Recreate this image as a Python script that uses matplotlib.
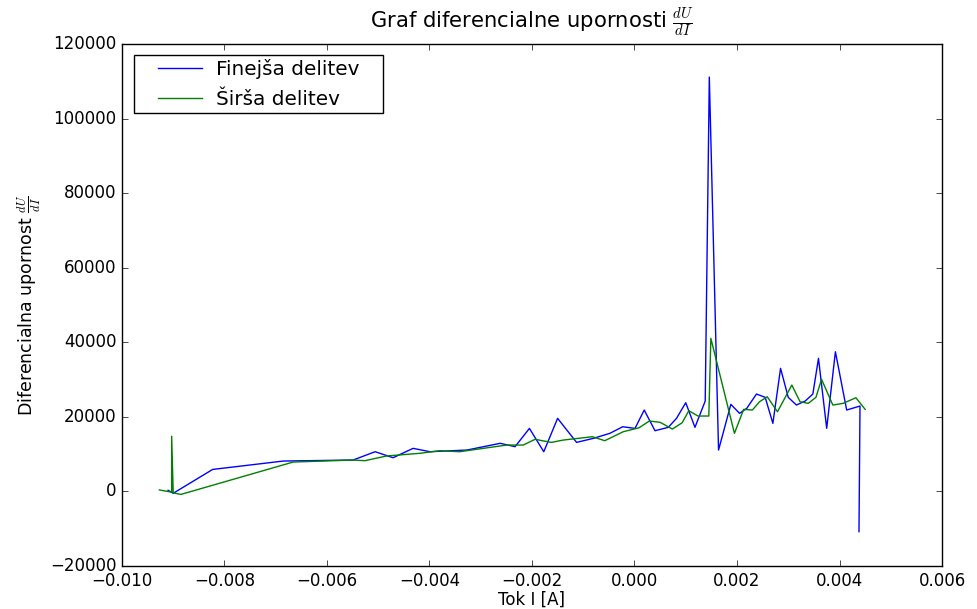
import matplotlib
matplotlib.use("Agg")
import matplotlib.pyplot as plt
from matplotlib.lines import Line2D
from matplotlib.legend_handler import HandlerLine2D

plt.style.use("classic")
plt.rcParams["mathtext.fontset"] = "cm"

# Finer division (blue)
blue_x = [-0.00910, -0.00900, -0.00823, -0.00685, -0.00549, -0.00506, -0.00471,
          -0.00432, -0.00399, -0.00327, -0.00262, -0.00233, -0.00205, -0.00177,
          -0.00150, -0.00113, -0.00080, -0.00048, -0.00023, 0.00001, 0.00019,
          0.00040, 0.00066, 0.00082, 0.00100, 0.00118, 0.00138, 0.00146,
          0.00164, 0.00188, 0.00205, 0.00219, 0.00238, 0.00255, 0.00270,
          0.00285, 0.00300, 0.00316, 0.00333, 0.00348, 0.00359, 0.00375,
          0.00392, 0.00414, 0.00440, 0.00438]
blue_y = [300, -500, 5900, 8150, 8420, 10650, 9040,
          11550, 10650, 11100, 12900, 12000, 16900, 10650,
          19600, 13150, 14240, 15580, 17350, 16900, 21830,
          16280, 17190, 19600, 23790, 17190, 24240, 111130,
          11100, 23350, 20940, 22280, 26120, 25230, 18260,
          33010, 25230, 23170, 24240, 26120, 35690, 16920,
          37460, 21830, 22900, -10800]

# Coarser division (green)
green_x = [-0.00927, -0.00903, -0.00903, -0.00900, -0.00885, -0.00666, -0.00549,
           -0.00526, -0.00484, -0.00419, -0.00380, -0.00341, -0.00295, -0.00249,
           -0.00217, -0.00194, -0.00162, -0.00139, -0.00082, -0.00058, -0.00022,
           0.00009, 0.00029, 0.00050, 0.00074, 0.00093, 0.00106, 0.00124,
           0.00145, 0.00149, 0.00195, 0.00213, 0.00230, 0.00244, 0.00259,
           0.00279, 0.00307, 0.00323, 0.00339, 0.00354, 0.00365, 0.00387,
           0.00407, 0.00432, 0.00450]
green_y = [400, -200, 14800, -400, -800, 7880, 8420,
           8240, 9500, 10220, 10920, 10650, 11550, 12440,
           12440, 13970, 13150, 13780, 14670, 13600, 16010,
           17080, 18880, 18530, 16730, 18420, 21640, 20220,
           20220, 41050, 15580, 22010, 21830, 24050, 25390,
           21370, 28530, 24050, 23620, 25230, 30060, 23170,
           23620, 25130, 22010]

fig = plt.figure(figsize=(9.78, 6.09), dpi=100, facecolor="white")
ax = fig.add_axes([0.1247, 0.0706, 0.9632 - 0.1247, 0.9278 - 0.0706])
ax.plot(blue_x, blue_y, color="b", lw=1, label="Finejša delitev")
ax.plot(green_x, green_y, color="g", lw=1, label="Širša delitev")
ax.set_xlim(-0.010, 0.006)
ax.set_ylim(-20000, 120000)
ax.set_title(r"Graf diferencialne upornosti $\frac{dU}{dI}$", fontsize=15.2, pad=12)
ax.set_xlabel("Tok I [A]", fontsize=12, labelpad=1)
ax.set_ylabel(r"Diferencialna upornost $\frac{dU}{dI}$", fontsize=12.5)
ax.tick_params(labelsize=12)
ax.legend(loc="upper left", fontsize=14.4, mode="expand",
          bbox_to_anchor=(0.015, 0.0, 0.3037, 0.979), borderaxespad=0,
          borderpad=0.2, handlelength=4.17, handletextpad=-0.3,
          labelspacing=0.55,
          handler_map={Line2D: HandlerLine2D(marker_pad=1.0, numpoints=2)})
fig.savefig("out.png", dpi=100, facecolor="white")
